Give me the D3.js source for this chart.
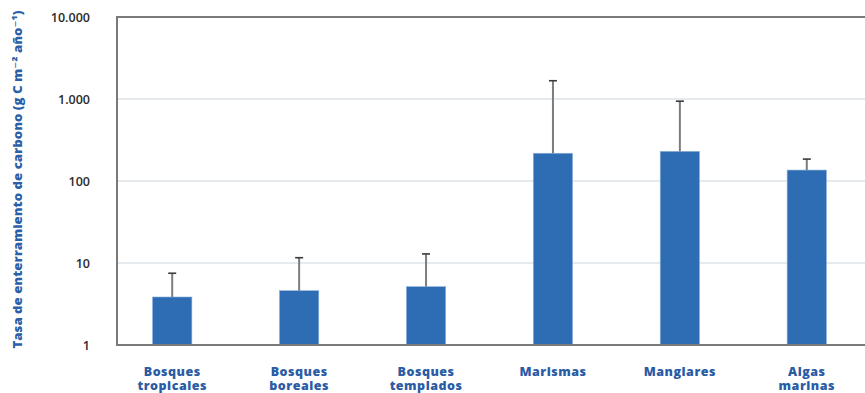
<!DOCTYPE html>
<html>
<head>
<meta charset="utf-8">
<script src="https://cdn.jsdelivr.net/npm/d3@7"></script>
<style>
  html, body { margin: 0; padding: 0; background: #fff; }
  svg { display: block; }
  text { font-family: "Open Sans", "DejaVu Sans", sans-serif; }
</style>
</head>
<body>
<svg id="chart" width="865" height="393"></svg>
<script>
// Carbon burial rate by ecosystem (g C m-2 yr-1), log scale
const categories = [
  ["Bosques", "tropicales"],
  ["Bosques", "boreales"],
  ["Bosques", "templados"],
  ["Marismas"],
  ["Manglares"],
  ["Algas", "marinas"]
];
const meanValues  = [3.85, 4.6, 5.15, 218, 230, 136];
const upperValues = [7.5, 11.6, 12.9, 1670, 940, 185];
const tickValues  = [1, 10, 100, 1000, 10000];
const tickLabels  = ["1", "10", "100", "1.000", "10.000"];
const yTitle = "Tasa de enterramiento de carbono (g C m\u207B\u00B2 a\u00F1o\u207B\u00B9)";

const svg = d3.select("#chart");
const plotLeft = 117, plotRight = 865, plotTop = 17, plotBottom = 345;

const x = d3.scaleBand()
  .domain(categories.map((c, i) => i))
  .range([plotLeft, 862])
  .paddingInner(0.69)
  .paddingOuter(0.28);

const y = d3.scaleLog()
  .domain([1, 10000])
  .range([plotBottom, plotTop]);

// horizontal gridlines
svg.append("g")
  .selectAll("line")
  .data(tickValues.filter(v => v > 1 && v < 10000))
  .join("line")
  .attr("x1", plotLeft).attr("x2", plotRight)
  .attr("y1", d => y(d)).attr("y2", d => y(d))
  .attr("stroke", "#dde3ea")
  .attr("stroke-width", 1.5);

// bars
svg.append("g")
  .selectAll("rect")
  .data(meanValues)
  .join("rect")
  .attr("x", (d, i) => x(i))
  .attr("width", x.bandwidth())
  .attr("y", d => y(d))
  .attr("height", d => y(1) - y(d))
  .attr("fill", "#2e6db4")
  .attr("stroke", "#8fb3de")
  .attr("stroke-width", 0.6);

// error bars (upper whisker only)
const err = svg.append("g");
err.selectAll("line.stem")
  .data(meanValues)
  .join("line")
  .attr("class", "stem")
  .attr("x1", (d, i) => x(i) + x.bandwidth() / 2)
  .attr("x2", (d, i) => x(i) + x.bandwidth() / 2)
  .attr("y1", d => y(d))
  .attr("y2", (d, i) => y(upperValues[i]))
  .attr("stroke", "#7d7d7d")
  .attr("stroke-width", 2);
err.selectAll("line.cap")
  .data(upperValues)
  .join("line")
  .attr("class", "cap")
  .attr("x1", (d, i) => x(i) + x.bandwidth() / 2 - 4)
  .attr("x2", (d, i) => x(i) + x.bandwidth() / 2 + 4)
  .attr("y1", d => y(d))
  .attr("y2", d => y(d))
  .attr("stroke", "#3a3a3a")
  .attr("stroke-width", 1.6);

// frame: top line, left axis, baseline
svg.append("line")
  .attr("x1", plotLeft).attr("x2", plotRight)
  .attr("y1", y(10000)).attr("y2", y(10000))
  .attr("stroke", "#7a7a7a").attr("stroke-width", 2);
svg.append("line")
  .attr("x1", plotLeft).attr("x2", plotLeft)
  .attr("y1", y(10000) - 1).attr("y2", y(1) + 1)
  .attr("stroke", "#7a7a7a").attr("stroke-width", 2);
svg.append("line")
  .attr("x1", plotLeft).attr("x2", plotRight)
  .attr("y1", y(1)).attr("y2", y(1))
  .attr("stroke", "#7a7a7a").attr("stroke-width", 2);

// y tick labels
const yAxis = d3.axisLeft(y)
  .tickValues(tickValues)
  .tickFormat((d, i) => tickLabels[i])
  .tickSize(0)
  .tickPadding(27);
const ya = svg.append("g")
  .attr("transform", `translate(${plotLeft},0)`)
  .call(yAxis);
ya.select(".domain").remove();
ya.selectAll("text")
  .attr("font-family", "'DejaVu Sans', sans-serif")
  .attr("font-size", 12.5)
  .attr("font-weight", 600)
  .attr("fill", "#2b2b2b");

// x category labels
const xl = svg.append("g");
categories.forEach((lines, i) => {
  const t = xl.append("text")
    .attr("x", x(i) + x.bandwidth() / 2)
    .attr("y", 376)
    .attr("text-anchor", "middle")
    .attr("font-size", 12.5)
    .attr("font-weight", 800)
    .attr("letter-spacing", 0.5)
    .attr("fill", "#2a5ba5");
  lines.forEach((s, k) => {
    t.append("tspan")
      .attr("x", x(i) + x.bandwidth() / 2)
      .attr("dy", k === 0 ? 0 : 13.5)
      .text(s);
  });
});

// y axis title
svg.append("text")
  .attr("transform", `translate(22,${(10 + 349) / 2}) rotate(-90)`)
  .attr("text-anchor", "middle")
  .attr("font-size", 12)
  .attr("font-weight", 800)
  .attr("fill", "#2b5fa8")
  .attr("textLength", 338)
  .attr("lengthAdjust", "spacingAndGlyphs")
  .text(yTitle);
</script>
</body>
</html>
